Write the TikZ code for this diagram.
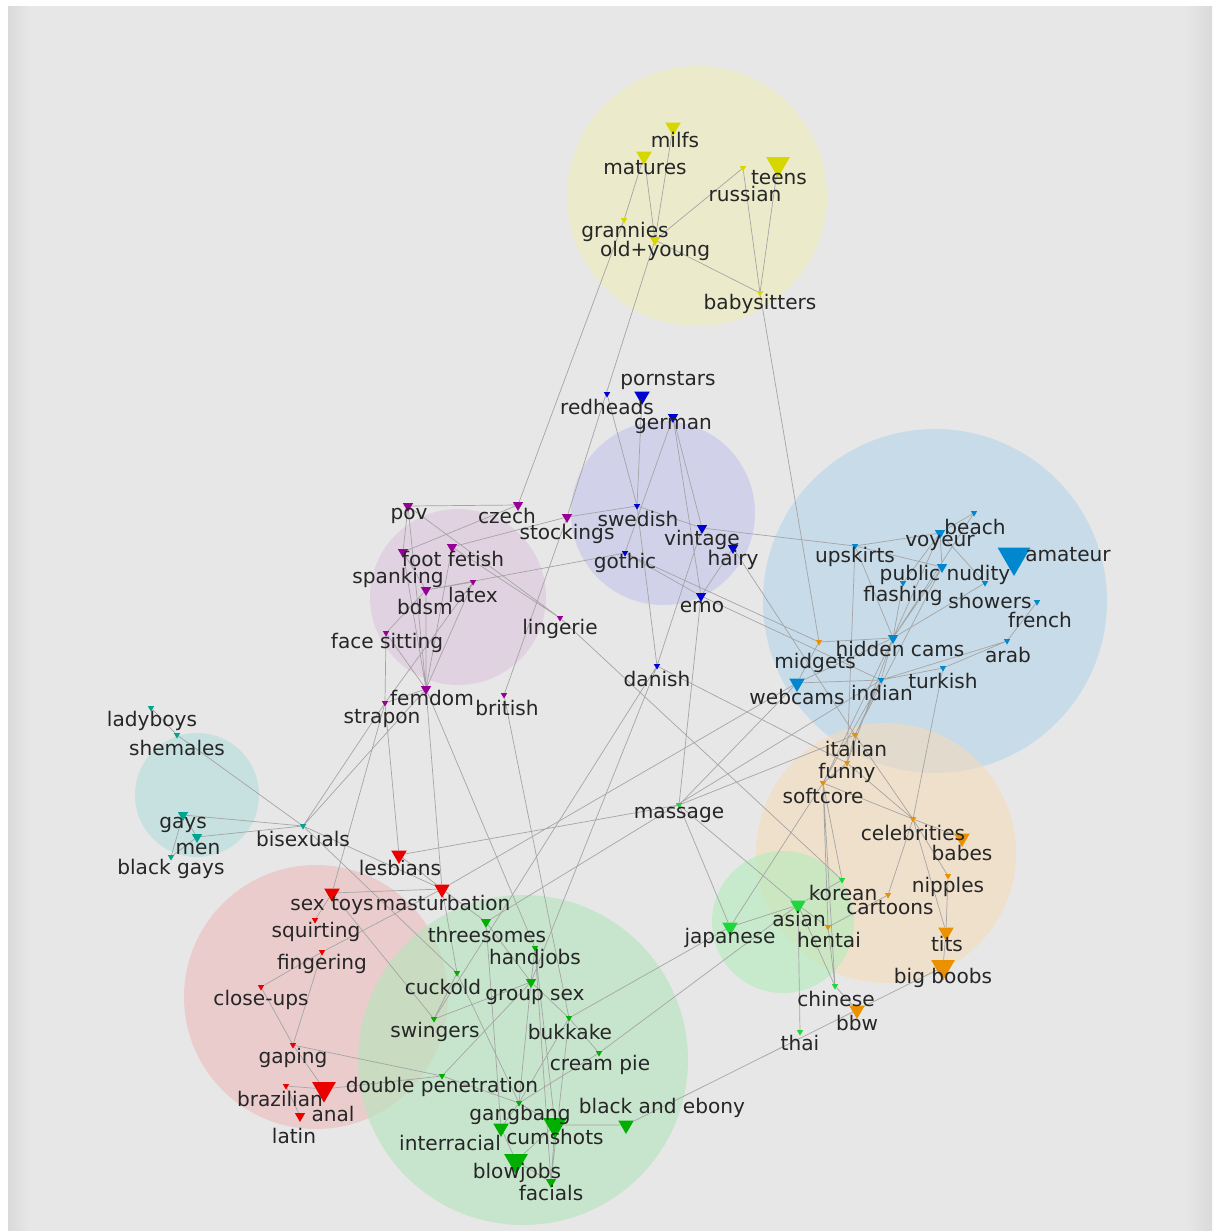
\documentclass[tikz,border=0pt]{standalone}
\usepackage{fontspec}
\setmainfont{DejaVu Sans}
\usepackage{xcolor}
\usepackage{tikz}
\usetikzlibrary{shapes.geometric}

\definecolor{bggray}{RGB}{231,231,231}
\definecolor{bgedge}{RGB}{218,218,220}
\definecolor{cyel}{RGB}{239,239,187}
\definecolor{clav}{RGB}{195,195,237}
\definecolor{cpink}{RGB}{222,196,222}
\definecolor{cblue}{RGB}{179,212,234}
\definecolor{cteal}{RGB}{179,220,220}
\definecolor{cpeach}{RGB}{245,220,187}
\definecolor{clgrn}{RGB}{179,237,187}
\definecolor{cred}{RGB}{239,187,187}
\definecolor{cgrn}{RGB}{179,229,187}
\definecolor{myel}{RGB}{215,215,0}
\definecolor{mnavy}{RGB}{0,0,210}
\definecolor{mpurp}{RGB}{150,0,150}
\definecolor{msky}{RGB}{0,135,205}
\definecolor{morng}{RGB}{235,145,0}
\definecolor{mteal}{RGB}{0,165,145}
\definecolor{mred}{RGB}{235,0,0}
\definecolor{mgrn}{RGB}{0,175,0}
\definecolor{mlgrn}{RGB}{30,215,60}
\definecolor{edgegray}{RGB}{165,165,165}

\pgfdeclarelayer{bg}
\pgfsetlayers{bg,main}

\begin{document}
\begin{tikzpicture}[
    x=0.025cm, y=-0.025cm,
    mk/.style={regular polygon, regular polygon sides=3, shape border rotate=180, inner sep=0pt, draw=none},
    sa/.style={mk, minimum size=0.18cm},
    sb/.style={mk, minimum size=0.30cm},
    sc/.style={mk, minimum size=0.45cm},
    sd/.style={mk, minimum size=0.68cm},
    lbl/.style={inner sep=0pt, text=black!85, font=\fontsize{14.3}{16}\selectfont},
    edge/.style={draw=edgegray, line width=0.5pt},
    blob/.style={fill opacity=0.6},
]
\useasboundingbox (0,0) rectangle (1212,1231);

% Background and cluster circles
\begin{pgfonlayer}{bg}
\fill[white] (0,0) rectangle (1212,1231);
\fill[bggray] (8,6) rectangle (1212,1231);
\shade[left color=bggray, right color=bgedge] (1185,6) rectangle (1212,1231);
\shade[left color=bgedge, right color=bggray] (8,6) rectangle (30,1231);
\fill[blob, cyel] (697,196) circle (130);
\fill[blob, clav] (663,513) circle (92);
\fill[blob, cpink] (458,597) circle (88);
\fill[blob, cblue] (935,601) circle (172);
\fill[blob, cteal] (197,795) circle (62);
\fill[blob, cpeach] (886,853) circle (130);
\fill[blob, clgrn] (783,922) circle (71);
\fill[blob, cred] (316,997) circle (132);
\fill[blob, cgrn] (523,1060) circle (165);
\end{pgfonlayer}

% Yellow group
\node[sc, fill=myel] (milfs) at (673,127) {};
\node[sc, fill=myel] (matures) at (644,156) {};
\node[sd, fill=myel] (teens) at (778,164) {};
\node[sa, fill=myel] (russian) at (743,168) {};
\node[sa, fill=myel] (grannies) at (624,220) {};
\node[sb, fill=myel] (oldyoung) at (655,240) {};
\node[sa, fill=myel] (babysitters) at (760,293) {};
\node[lbl] (milfs-t) at (675,140) {milfs};
\node[lbl] (matures-t) at (645,168) {matures};
\node[lbl] (teens-t) at (779,178) {teens};
\node[lbl] (russian-t) at (745,194) {russian};
\node[lbl] (grannies-t) at (625,232) {grannies};
\node[lbl] (oldyoung-t) at (655,251) {old+young};
\node[lbl] (babysitters-t) at (760,304) {babysitters};

% Lavender group
\node[sc, fill=mnavy] (pornstars) at (642,396) {};
\node[sa, fill=mnavy] (redheads) at (607,394) {};
\node[sb, fill=mnavy] (german) at (673,417) {};
\node[sa, fill=mnavy] (swedish) at (637,506) {};
\node[sb, fill=mnavy] (vintage) at (702,528) {};
\node[sb, fill=mnavy] (hairy) at (733,548) {};
\node[sa, fill=mnavy] (gothic) at (625,553) {};
\node[sb, fill=mnavy] (emo) at (701,596) {};
\node[sa, fill=mnavy] (danish) at (657,666) {};
\node[lbl] (pornstars-t) at (668,381) {pornstars};
\node[lbl] (redheads-t) at (607,407) {redheads};
\node[lbl] (german-t) at (673,426) {german};
\node[lbl] (swedish-t) at (638,519) {swedish};
\node[lbl] (vintage-t) at (702,540) {vintage};
\node[lbl] (hairy-t) at (733,560) {hairy};
\node[lbl] (gothic-t) at (625,563) {gothic};
\node[lbl] (emo-t) at (702,607) {emo};
\node[lbl] (danish-t) at (657,679) {danish};

% Pink group
\node[sb, fill=mpurp] (pov) at (408,506) {};
\node[sb, fill=mpurp] (czech) at (518,505) {};
\node[sb, fill=mpurp] (stockings) at (567,517) {};
\node[sb, fill=mpurp] (footfetish) at (452,547) {};
\node[sb, fill=mpurp] (spanking) at (403,552) {};
\node[sa, fill=mpurp] (latex) at (473,582) {};
\node[sb, fill=mpurp] (bdsm) at (426,590) {};
\node[sa, fill=mpurp] (facesitting) at (386,633) {};
\node[sa, fill=mpurp] (lingerie) at (560,618) {};
\node[sb, fill=mpurp] (femdom) at (426,689) {};
\node[sa, fill=mpurp] (strapon) at (385,703) {};
\node[sa, fill=mpurp] (british) at (504,695) {};
\node[lbl] (pov-t) at (409,516) {pov};
\node[lbl] (czech-t) at (507,516) {czech};
\node[lbl] (stockings-t) at (567,534) {stockings};
\node[lbl] (footfetish-t) at (453,559) {foot fetish};
\node[lbl] (spanking-t) at (398,578) {spanking};
\node[lbl] (latex-t) at (473,595) {latex};
\node[lbl] (bdsm-t) at (425,607) {bdsm};
\node[lbl] (facesitting-t) at (387,643) {face sitting};
\node[lbl] (lingerie-t) at (560,629) {lingerie};
\node[lbl] (femdom-t) at (432,698) {femdom};
\node[lbl] (strapon-t) at (382,719) {strapon};
\node[lbl] (british-t) at (507,708) {british};

% Blue group
\node[sa, fill=msky] (beach) at (974,513) {};
\node[sb, fill=msky] (voyeur) at (940,533) {};
\node[mk, minimum size=0.95cm, fill=msky] (amateur) at (1014,557) {};
\node[sa, fill=msky] (upskirts) at (855,546) {};
\node[sb, fill=msky] (publicnudity) at (942,567) {};
\node[sa, fill=msky] (flashing) at (903,583) {};
\node[sa, fill=msky] (showers) at (985,583) {};
\node[sa, fill=msky] (french) at (1037,602) {};
\node[sb, fill=msky] (hiddencams) at (893,638) {};
\node[sa, fill=msky] (arab) at (1007,641) {};
\node[sc, fill=msky] (webcams) at (797,683) {};
\node[sa, fill=msky] (indian) at (881,680) {};
\node[sa, fill=msky] (turkish) at (943,668) {};
\node[lbl] (beach-t) at (975,527) {beach};
\node[lbl] (voyeur-t) at (940,543) {voyeur};
\node[lbl] (amateur-t) at (1068,555) {amateur};
\node[lbl] (upskirts-t) at (855,557) {upskirts};
\node[lbl] (publicnudity-t) at (945,575) {public nudity};
\node[lbl] (flashing-t) at (903,596) {flashing};
\node[lbl] (showers-t) at (990,601) {showers};
\node[lbl] (french-t) at (1040,620) {french};
\node[lbl] (hiddencams-t) at (900,649) {hidden cams};
\node[lbl] (arab-t) at (1008,655) {arab};
\node[lbl] (webcams-t) at (797,697) {webcams};
\node[lbl] (indian-t) at (882,693) {indian};
\node[lbl] (turkish-t) at (943,681) {turkish};

% Teal group
\node[sa, fill=mteal] (ladyboys) at (151,708) {};
\node[sa, fill=mteal] (shemales) at (177,735) {};
\node[sb, fill=mteal] (gays) at (183,815) {};
\node[sb, fill=mteal] (men) at (197,837) {};
\node[sa, fill=mteal] (blackgays) at (171,857) {};
\node[sa, fill=mteal] (bisexuals) at (303,826) {};
\node[lbl] (ladyboys-t) at (152,721) {ladyboys};
\node[lbl] (shemales-t) at (177,748) {shemales};
\node[lbl] (gays-t) at (183,825) {gays};
\node[lbl] (men-t) at (198,849) {men};
\node[lbl] (blackgays-t) at (171,869) {black gays};
\node[lbl] (bisexuals-t) at (303,839) {bisexuals};

% Red group
\node[sc, fill=mred] (lesbians) at (399,855) {};
\node[sc, fill=mred] (masturbation) at (442,889) {};
\node[sc, fill=mred] (sextoys) at (332,893) {};
\node[sa, fill=mred] (squirting) at (315,920) {};
\node[sa, fill=mred] (fingering) at (322,952) {};
\node[sa, fill=mred] (closeups) at (261,987) {};
\node[sa, fill=mred] (gaping) at (293,1045) {};
\node[sd, fill=mred] (anal) at (324,1089) {};
\node[sa, fill=mred] (brazilian) at (286,1086) {};
\node[sb, fill=mred] (latin) at (300,1116) {};
\node[lbl] (lesbians-t) at (400,868) {lesbians};
\node[lbl] (masturbation-t) at (443,903) {masturbation};
\node[lbl] (sextoys-t) at (332,906) {sex toys};
\node[lbl] (squirting-t) at (316,932) {squirting};
\node[lbl] (fingering-t) at (322,964) {fingering};
\node[lbl] (closeups-t) at (261,1000) {close-ups};
\node[lbl] (gaping-t) at (293,1058) {gaping};
\node[lbl] (brazilian-t) at (280,1099) {brazilian};
\node[lbl] (anal-t) at (333,1114) {anal};
\node[lbl] (latin-t) at (294,1136) {latin};

% Green group
\node[sb, fill=mgrn] (threesomes) at (486,922) {};
\node[sa, fill=mgrn] (handjobs) at (535,948) {};
\node[sb, fill=mgrn] (groupsex) at (531,982) {};
\node[sa, fill=mgrn] (cuckold) at (457,973) {};
\node[sa, fill=mgrn] (swingers) at (434,1019) {};
\node[sa, fill=mgrn] (bukkake) at (569,1018) {};
\node[sa, fill=mgrn] (creampie) at (599,1053) {};
\node[sa, fill=mgrn] (dp) at (442,1076) {};
\node[sa, fill=mgrn] (gangbang) at (519,1103) {};
\node[sc, fill=mgrn] (blackebony) at (626,1125) {};
\node[sd, fill=mgrn] (cumshots) at (555,1125) {};
\node[sc, fill=mgrn] (interracial) at (501,1128) {};
\node[sd, fill=mgrn] (blowjobs) at (516,1161) {};
\node[sb, fill=mgrn] (facials) at (551,1182) {};
\node[sa, fill=mlgrn] (massage) at (679,805) {};
\node[lbl] (threesomes-t) at (487,935) {threesomes};
\node[lbl] (handjobs-t) at (535,959) {handjobs};
\node[lbl] (cuckold-t) at (443,987) {cuckold};
\node[lbl] (groupsex-t) at (535,997) {group sex};
\node[lbl] (swingers-t) at (435,1032) {swingers};
\node[lbl] (bukkake-t) at (570,1032) {bukkake};
\node[lbl] (creampie-t) at (600,1065) {cream pie};
\node[lbl] (dp-t) at (442,1087) {double penetration};
\node[lbl] (gangbang-t) at (520,1115) {gangbang};
\node[lbl] (blackebony-t) at (662,1108) {black and ebony};
\node[lbl] (interracial-t) at (450,1143) {interracial};
\node[lbl] (cumshots-t) at (555,1137) {cumshots};
\node[lbl] (blowjobs-t) at (517,1173) {blowjobs};
\node[lbl] (facials-t) at (551,1193) {facials};
\node[lbl] (massage-t) at (679,815) {massage};

% Orange and Asian groups
\node[sa, fill=morng] (midgets) at (819,642) {};
\node[sa, fill=morng] (italian) at (855,735) {};
\node[sa, fill=morng] (funny) at (847,763) {};
\node[sa, fill=morng] (softcore) at (823,783) {};
\node[sa, fill=morng] (celebrities) at (913,819) {};
\node[sc, fill=morng] (babes) at (962,838) {};
\node[sa, fill=morng] (nipples) at (948,876) {};
\node[sa, fill=morng] (cartoons) at (888,895) {};
\node[sa, fill=morng] (hentai) at (828,927) {};
\node[sc, fill=morng] (tits) at (946,932) {};
\node[sd, fill=morng] (bigboobs) at (943,967) {};
\node[sc, fill=morng] (bbw) at (857,1010) {};
\node[sa, fill=mlgrn] (korean) at (842,880) {};
\node[sc, fill=mlgrn] (asian) at (798,905) {};
\node[sc, fill=mlgrn] (japanese) at (730,927) {};
\node[sa, fill=mlgrn] (chinese) at (835,986) {};
\node[sa, fill=mlgrn] (thai) at (800,1032) {};
\node[lbl] (midgets-t) at (815,663) {midgets};
\node[lbl] (italian-t) at (856,749) {italian};
\node[lbl] (funny-t) at (847,773) {funny};
\node[lbl] (softcore-t) at (823,796) {softcore};
\node[lbl] (celebrities-t) at (913,833) {celebrities};
\node[lbl] (babes-t) at (962,853) {babes};
\node[lbl] (nipples-t) at (948,887) {nipples};
\node[lbl] (korean-t) at (843,893) {korean};
\node[lbl] (cartoons-t) at (890,908) {cartoons};
\node[lbl] (asian-t) at (799,919) {asian};
\node[lbl] (japanese-t) at (730,938) {japanese};
\node[lbl] (hentai-t) at (829,940) {hentai};
\node[lbl] (tits-t) at (947,944) {tits};
\node[lbl] (bigboobs-t) at (943,978) {big boobs};
\node[lbl] (chinese-t) at (836,999) {chinese};
\node[lbl] (bbw-t) at (857,1023) {bbw};
\node[lbl] (thai-t) at (800,1043) {thai};

% Edges
\begin{pgfonlayer}{bg}
\draw[edge] (matures) -- (grannies) (matures) -- (oldyoung) (milfs) -- (oldyoung)
  (oldyoung) -- (russian) (oldyoung) -- (babysitters) (russian) -- (babysitters)
  (teens) -- (babysitters) (grannies) -- (czech) (oldyoung) -- (stockings)
  (babysitters) -- (midgets);
\draw[edge] (redheads) -- (swedish) (swedish) -- (danish) (german) -- (gothic)
  (german) -- (vintage) (german) -- (emo) (pornstars) -- (swedish) (swedish) -- (vintage)
  (vintage) -- (danish) (hairy) -- (emo) (gothic) -- (emo) (vintage) -- (upskirts)
  (hairy) -- (italian) (emo) -- (indian) (emo) -- (massage) (danish) -- (funny)
  (danish) -- (swingers) (danish) -- (groupsex) (stockings) -- (swedish) (gothic) -- (midgets);
\draw[edge] (pov) -- (czech) (pov) -- (femdom) (pov) -- (lingerie) (czech) -- (spanking)
  (stockings) -- (footfetish) (stockings) -- (british) (footfetish) -- (femdom)
  (latex) -- (femdom) (bdsm) -- (femdom) (spanking) -- (femdom) (facesitting) -- (femdom)
  (facesitting) -- (bdsm) (spanking) -- (bdsm) (latex) -- (bdsm) (latex) -- (strapon)
  (femdom) -- (strapon) (footfetish) -- (lingerie) (bdsm) -- (gothic) (lingerie) -- (korean)
  (femdom) -- (masturbation) (femdom) -- (handjobs) (british) -- (bukkake)
  (strapon) -- (lesbians) (strapon) -- (sextoys) (facesitting) -- (strapon) (pov) -- (spanking);
\draw[edge] (ladyboys) -- (shemales) (shemales) -- (bisexuals) (gays) -- (bisexuals)
  (men) -- (bisexuals) (gays) -- (men) (gays) -- (blackgays) (men) -- (blackgays)
  (bisexuals) -- (strapon) (bisexuals) -- (femdom) (bisexuals) -- (masturbation)
  (bisexuals) -- (cuckold);
\draw[edge] (lesbians) -- (massage) (sextoys) -- (masturbation) (lesbians) -- (masturbation)
  (masturbation) -- (threesomes) (masturbation) -- (fingering) (sextoys) -- (squirting)
  (fingering) -- (closeups) (fingering) -- (gaping) (closeups) -- (gaping) (gaping) -- (anal)
  (gaping) -- (dp) (brazilian) -- (latin) (anal) -- (brazilian) (anal) -- (dp)
  (masturbation) -- (webcams) (sextoys) -- (swingers) (masturbation) -- (cuckold);
\draw[edge] (threesomes) -- (groupsex) (threesomes) -- (interracial) (handjobs) -- (groupsex)
  (handjobs) -- (cumshots) (handjobs) -- (facials) (groupsex) -- (swingers)
  (groupsex) -- (bukkake) (groupsex) -- (dp) (groupsex) -- (gangbang) (bukkake) -- (creampie)
  (bukkake) -- (gangbang) (bukkake) -- (facials) (bukkake) -- (japanese) (creampie) -- (asian)
  (gangbang) -- (interracial) (gangbang) -- (cumshots) (gangbang) -- (dp) (gangbang) -- (creampie)
  (cumshots) -- (blackebony) (cumshots) -- (blowjobs) (cumshots) -- (facials)
  (blowjobs) -- (facials) (interracial) -- (blowjobs) (blackebony) -- (bigboobs)
  (cuckold) -- (swingers) (cuckold) -- (gangbang) (threesomes) -- (indian);
\draw[edge] (massage) -- (japanese) (massage) -- (asian) (japanese) -- (asian)
  (asian) -- (hentai) (asian) -- (korean) (asian) -- (thai) (asian) -- (chinese)
  (hentai) -- (chinese) (hentai) -- (cartoons) (japanese) -- (softcore) (korean) -- (softcore)
  (italian) -- (funny) (funny) -- (softcore) (softcore) -- (celebrities) (funny) -- (celebrities)
  (italian) -- (celebrities) (celebrities) -- (babes) (celebrities) -- (nipples)
  (nipples) -- (tits) (tits) -- (bigboobs) (celebrities) -- (cartoons) (softcore) -- (hentai)
  (softcore) -- (chinese) (chinese) -- (bbw) (massage) -- (italian) (massage) -- (webcams)
  (celebrities) -- (tits);
\draw[edge] (beach) -- (voyeur) (voyeur) -- (publicnudity) (voyeur) -- (upskirts)
  (voyeur) -- (hiddencams) (voyeur) -- (flashing) (upskirts) -- (hiddencams)
  (upskirts) -- (publicnudity) (flashing) -- (hiddencams) (publicnudity) -- (hiddencams)
  (showers) -- (hiddencams) (showers) -- (voyeur) (beach) -- (hiddencams) (french) -- (arab)
  (arab) -- (indian) (turkish) -- (indian) (turkish) -- (arab) (hiddencams) -- (indian)
  (webcams) -- (indian) (webcams) -- (hiddencams) (indian) -- (italian)
  (turkish) -- (celebrities) (hiddencams) -- (softcore) (indian) -- (softcore)
  (midgets) -- (hiddencams) (midgets) -- (webcams) (hiddencams) -- (funny)
  (publicnudity) -- (italian) (upskirts) -- (funny);
\end{pgfonlayer}

\end{tikzpicture}
\end{document}
